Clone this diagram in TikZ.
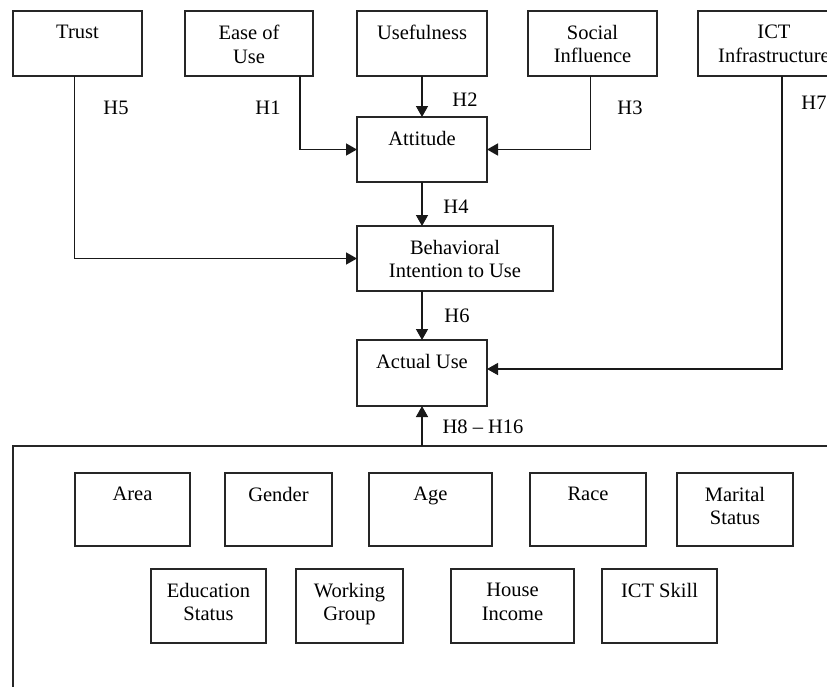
\documentclass[tikz,border=0pt]{standalone}
\usepackage{fontspec}
\setmainfont{Liberation Serif}
\usetikzlibrary{arrows.meta,calc}
\newcommand\mybx[6]{%
  \node[box,minimum width={(#4)-(#2)},minimum height={(#5)-(#3)}] (#1) at ({((#2)+(#4))/2},{((#3)+(#5))/2}) {};
  \node[txt,anchor=north,yshift=-14pt] (#1t) at (#1.north) {#6};}
\begin{document}
\begin{tikzpicture}[x=1pt,y=-1pt,
  box/.style={draw=black!85,line width=1.3pt,inner sep=0pt,outer sep=0pt,rectangle},
  txt/.style={inner sep=0pt,align=center,font=\fontsize{20.5}{23.5}\selectfont},
  lbl/.style={inner sep=0pt,font=\fontsize{20.5}{23.5}\selectfont},
  arr/.style={line width=1.4pt,draw=black!90,-{Triangle[length=11pt,width=12pt]}},
  ln/.style={line width=1.4pt,draw=black!90}]
\useasboundingbox (0,0) rectangle (827,686);
\clip (0,0) rectangle (827,686);
\fill[white] (0,0) rectangle (827,686);
\mybx{trust}{13}{11}{142}{76}{Trust}
\mybx{ease}{185}{11}{313}{76}{Ease of\\Use}
\mybx{useful}{357}{11}{487}{76}{Usefulness}
\mybx{social}{528}{11}{657}{76}{Social\\Influence}
\mybx{ict}{698}{11}{850}{76}{ICT\\Infrastructure}
\mybx{attitude}{357}{117}{487}{182}{Attitude}
\mybx{bi}{357}{226}{553}{291}{Behavioral\\Intention to Use}
\mybx{actual}{357}{340}{487}{406}{Actual Use}
\node[box,minimum width=887pt,minimum height=314pt] (outer) at (456.5,603) {};
\mybx{area}{75}{473}{190}{546}{Area}
\mybx{gender}{225}{473}{332}{546}{Gender}
\mybx{age}{369}{473}{492}{546}{Age}
\mybx{race}{530}{473}{646}{546}{Race}
\mybx{marital}{677}{473}{793}{546}{Marital\\Status}
\mybx{edu}{151}{569}{266}{643}{Education\\Status}
\mybx{work}{296}{569}{403}{643}{Working\\Group}
\mybx{house}{451}{569}{574}{643}{House\\Income}
\mybx{skill}{602}{569}{717}{643}{ICT Skill}
% connectors
\coordinate (easeout) at ($(ease.south east)+(-13,0)$);
\coordinate (socout) at ($(social.south)+(-2,0)$);
\coordinate (trustout) at ($(trust.south)+(-3,0)$);
\coordinate (ictout) at ($(ict.south west)+(84,0)$);
\coordinate (actin) at ($(actual.east)+(0,-4)$);
\draw[arr] (useful.south) -- (attitude.north);
\draw[arr] (easeout) |- (attitude.west);
\draw[arr] (socout) |- (attitude.east);
\draw[arr] (attitude.south) -- (attitude.south |- bi.north);
\draw[arr] (trustout) |- (bi.west);
\draw[arr] (actual.north |- bi.south) -- (actual.north);
\draw[arr] (ictout) |- (actin);
\draw[arr] (actual.south |- outer.north) -- (actual.south);
% labels
\node[lbl] (h5) at (116,108) {H5};
\node[lbl] (h1) at (268,108) {H1};
\node[lbl] (h2) at (465,100) {H2};
\node[lbl] (h3) at (630,108) {H3};
\node[lbl] (h7) at (814,103) {H7};
\node[lbl] (h4) at (456,207) {H4};
\node[lbl] (h6) at (457,316) {H6};
\node[lbl] (h8) at (483,427) {H8 -- H16};
\end{tikzpicture}
\end{document}
